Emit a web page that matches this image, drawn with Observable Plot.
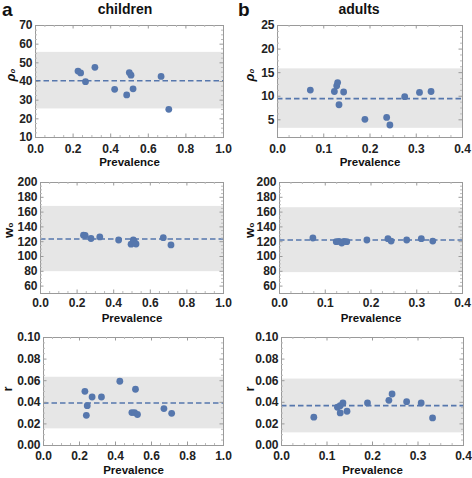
<!DOCTYPE html>
<html><head><meta charset="utf-8">
<script src="https://cdn.jsdelivr.net/npm/d3@7"></script>
<script src="https://cdn.jsdelivr.net/npm/@observablehq/plot@0.6"></script>
<style>
body{margin:0;background:#fff;font-family:"Liberation Sans",Arial,sans-serif;}
#wrap{position:relative;width:472px;height:478px;overflow:hidden;}
.p{position:absolute;}
.t{position:absolute;font-weight:bold;color:#111;white-space:nowrap;line-height:1.1;}
</style></head><body><div id="wrap">
<div class="t" style="left:2px;top:0px;font-size:19px;">a</div>
<div class="t" style="left:125px;top:2px;font-size:14px;transform:translateX(-50%);">children</div>
<div class="t" style="left:238px;top:0px;font-size:19px;">b</div>
<div class="t" style="left:359px;top:2px;font-size:14px;transform:translateX(-50%);">adults</div>
</div>
<script>
// ---- data ----
const xLabel = "Prevalence";
const childXTicks = [0, 0.2, 0.4, 0.6, 0.8, 1.0];
const adultXTicks = [0, 0.1, 0.2, 0.3, 0.4];
const rho0Ticks = [10, 20, 30, 40, 50, 60, 70];
const rho0AdultTicks = [5, 10, 15, 20, 25];
const w0Ticks = [60, 80, 100, 120, 140, 160, 180, 200];
const rTicks = [0, 0.02, 0.04, 0.06, 0.08, 0.10];

// children rho0
const childRhoX = [0.226, 0.240, 0.266, 0.316, 0.421, 0.485, 0.499, 0.508, 0.519, 0.668, 0.709];
const childRhoY = [45.6, 44.6, 39.9, 47.6, 35.8, 32.8, 44.8, 43.4, 36.1, 42.7, 25.1];
const childRhoBand = [25.3, 55.6, 40.4];
// children w0
const childW0X = [0.235, 0.244, 0.276, 0.324, 0.427, 0.495, 0.507, 0.512, 0.522, 0.671, 0.713];
const childW0Y = [128.8, 128.4, 124.3, 126.4, 122.3, 116.6, 122.6, 120.5, 116.9, 125.5, 115.6];
const childW0Band = [79.5, 167.7, 123.6];
// children r
const childRX = [0.230, 0.238, 0.243, 0.270, 0.322, 0.424, 0.491, 0.506, 0.511, 0.522, 0.669, 0.712];
const childRY = [0.0502, 0.0279, 0.0369, 0.0449, 0.0449, 0.0595, 0.0305, 0.0305, 0.0521, 0.0287, 0.0342, 0.0298];
const childRBand = [0.0154, 0.0632, 0.0394];

// adults rho0
const adultRhoX = [0.071, 0.123, 0.128, 0.130, 0.133, 0.143, 0.189, 0.236, 0.243, 0.275, 0.307, 0.332];
const adultRhoY = [11.3, 11.0, 12.2, 12.9, 8.2, 10.9, 5.1, 5.5, 3.9, 9.9, 10.8, 11.0];
const adultRhoBand = [3.2, 15.8, 9.5];
// adults w0
const adultW0X = [0.073, 0.124, 0.130, 0.136, 0.141, 0.147, 0.191, 0.237, 0.244, 0.278, 0.310, 0.335];
const adultW0Y = [125.0, 120.0, 120.5, 118.2, 120.5, 120.0, 122.3, 124.1, 120.9, 122.3, 124.1, 120.9];
const adultW0Band = [78.2, 165.9, 122.3];
// adults r
const adultRX = [0.071, 0.123, 0.129, 0.129, 0.135, 0.144, 0.189, 0.236, 0.243, 0.275, 0.307, 0.332];
const adultRY = [0.0262, 0.0354, 0.0369, 0.0302, 0.0394, 0.0317, 0.0394, 0.0418, 0.0477, 0.0406, 0.0394, 0.0255];
const adultRBand = [0.0117, 0.0615, 0.0369];

const BLUE = "#5677ad";
const FRAME = "#9a9a9a";

function minorTicks(major, n) {
  const out = [];
  for (let i = 0; i < major.length - 1; i++) {
    const a = major[i], b = major[i + 1];
    for (let k = 1; k < n; k++) out.push(a + (b - a) * k / n);
  }
  return out;
}

function panel(o) {
  const innerH = o.height - o.mT - o.mB;
  const innerW = o.width - o.mL - o.mR;
  const idx = o.x.map((_, i) => i);
  const xMinor = minorTicks(o.xTicks, 4);
  const yMinor = minorTicks(o.yTicks, 4);
  const svg = Plot.plot({
    width: o.width, height: o.height,
    marginLeft: o.mL, marginRight: o.mR, marginTop: o.mT, marginBottom: o.mB,
    style: {background: "transparent", overflow: "visible", fontFamily: "'Liberation Sans', Arial, sans-serif"},
    x: {domain: o.xDomain},
    y: {domain: o.yDomain},
    marks: [
      Plot.rect([o.band], {x1: () => o.xDomain[0], x2: () => o.xDomain[1], y1: d => d[0], y2: d => d[1], fill: "#e6e6e6"}),
      Plot.ruleY([o.band[2]], {stroke: BLUE, strokeWidth: 1.6, strokeDasharray: "5.5,3"}),
      Plot.dot(idx, {x: i => o.x[i], y: i => o.y[i], r: 3.4, fill: BLUE, stroke: "none"}),
      Plot.frame({stroke: FRAME, strokeWidth: 1}),
      // inward major ticks
      Plot.tickX(o.xTicks, {x: d => d, insetTop: innerH - 3.5, stroke: FRAME}),
      Plot.tickX(o.xTicks, {x: d => d, insetBottom: innerH - 3.5, stroke: FRAME}),
      Plot.tickY(o.yTicks, {y: d => d, insetRight: innerW - 3.5, stroke: FRAME}),
      Plot.tickY(o.yTicks, {y: d => d, insetLeft: innerW - 3.5, stroke: FRAME}),
      // inward minor ticks
      Plot.tickX(xMinor, {x: d => d, insetTop: innerH - 2, stroke: "#bbb"}),
      Plot.tickX(xMinor, {x: d => d, insetBottom: innerH - 2, stroke: "#bbb"}),
      Plot.tickY(yMinor, {y: d => d, insetRight: innerW - 2, stroke: "#bbb"}),
      Plot.tickY(yMinor, {y: d => d, insetLeft: innerW - 2, stroke: "#bbb"}),
      Plot.axisX(o.xTicks, {tickSize: 0, tickPadding: o.xPad ?? 5, tickFormat: d3.format(".1f"), fontSize: 12, fontWeight: "bold", fill: "#222", label: null}),
      Plot.axisY(o.yTicks, {tickSize: 0, tickPadding: 3, tickFormat: o.yFmt, fontSize: 12, fontWeight: "bold", fill: "#222", label: null}),
      Plot.text([xLabel], {frameAnchor: "bottom", dy: 28, fontSize: 11.5, fontWeight: "bold", fill: "#111"}),
      Plot.text([o.yLabel], {frameAnchor: "left", rotate: -90, dx: o.yDx, fontSize: 13, fontWeight: "bold", fontStyle: o.italic ? "italic" : "normal", fill: "#111"})
    ]
  });
  svg.classList.add("p");
  svg.style.left = o.left + "px";
  svg.style.top = o.top + "px";
  svg.style.position = "absolute";
  document.getElementById("wrap").appendChild(svg);
}

const intFmt = d3.format("d");
const r2Fmt = d3.format(".2f");

// row 1
panel({x: childRhoX, y: childRhoY, band: childRhoBand, xDomain: [0, 1], yDomain: [10, 70], xTicks: childXTicks, yTicks: rho0Ticks, yFmt: intFmt, yLabel: "ρ₀", italic: true, yDx: -25, xPad: 7,
  left: 0, top: 0, width: 236, height: 175, mL: 35, mR: 13, mT: 25, mB: 38});
panel({x: adultRhoX, y: adultRhoY, band: adultRhoBand, xDomain: [0, 0.4], yDomain: [1.25, 25], xTicks: adultXTicks, yTicks: rho0AdultTicks, yFmt: intFmt, yLabel: "ρ₀", italic: true, yDx: -28, xPad: 7,
  left: 236, top: 0, width: 236, height: 175, mL: 41, mR: 10, mT: 25, mB: 38});
// row 2
panel({x: childW0X, y: childW0Y, band: childW0Band, xDomain: [0, 1], yDomain: [50, 200], xTicks: childXTicks, yTicks: w0Ticks, yFmt: intFmt, yLabel: "w₀", yDx: -32,
  left: 0, top: 155, width: 236, height: 170, mL: 40, mR: 13, mT: 27, mB: 32});
panel({x: adultW0X, y: adultW0Y, band: adultW0Band, xDomain: [0, 0.4], yDomain: [50, 200], xTicks: adultXTicks, yTicks: w0Ticks, yFmt: intFmt, yLabel: "w₀", yDx: -30,
  left: 236, top: 155, width: 236, height: 170, mL: 43, mR: 10, mT: 27, mB: 32});
// row 3
panel({x: childRX, y: childRY, band: childRBand, xDomain: [0, 1], yDomain: [0, 0.1], xTicks: childXTicks, yTicks: rTicks, yFmt: r2Fmt, yLabel: "r", yDx: -36, xPad: 6,
  left: 0, top: 310, width: 236, height: 168, mL: 43, mR: 13, mT: 27, mB: 33});
panel({x: adultRX, y: adultRY, band: adultRBand, xDomain: [0, 0.4], yDomain: [0, 0.1], xTicks: adultXTicks, yTicks: rTicks, yFmt: r2Fmt, yLabel: "r", yDx: -32, xPad: 6,
  left: 236, top: 310, width: 236, height: 168, mL: 45, mR: 9, mT: 27, mB: 33});
</script>
</body></html>
